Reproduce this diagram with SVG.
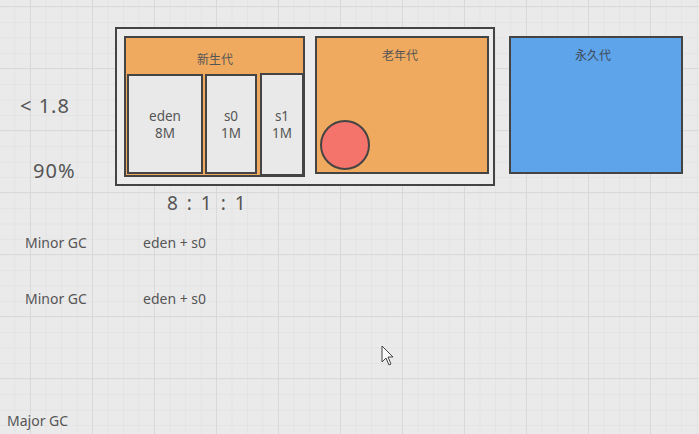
<svg xmlns="http://www.w3.org/2000/svg" width="699" height="434" viewBox="0 0 699 434">
<defs>
<pattern id="minor" x="14.5" y="6.5" width="15.5" height="15.5" patternUnits="userSpaceOnUse">
<path d="M0 0H15.5M0 0V15.5" fill="none" stroke="#dedede" stroke-width="1"/>
</pattern>
<pattern id="major" x="30" y="6" width="62" height="62" patternUnits="userSpaceOnUse">
<path d="M0 0H62M0 0V62" fill="none" stroke="#d6d6d6" stroke-width="1.5"/>
</pattern>
</defs>
<style>
.box{stroke:#444;stroke-width:2}
.t{font-family:"Noto Sans","Noto Sans CJK SC",sans-serif;fill:#555}
.c{text-anchor:middle}
.big{font-size:20px;letter-spacing:1px}
.sm{font-size:14px}
</style>
<rect width="699" height="434" fill="#eaeaea"/>
<rect width="699" height="434" fill="url(#minor)"/>
<rect width="699" height="434" fill="url(#major)"/>

<g id="heap">
<rect x="116" y="28" width="378" height="157" fill="#ececec" class="box"/>
</g>
<g id="young">
<rect x="125" y="37" width="179" height="139" fill="#f0aa5f" class="box"/>
<text x="215" y="64" class="t c" font-size="12">新生代</text>
</g>
<g id="eden">
<rect x="128" y="75" width="74" height="98" fill="#e9e9e9" class="box"/>
<text x="165" y="121" class="t c" font-size="13.5">eden</text>
<text x="165" y="138" class="t c" font-size="13.5">8M</text>
</g>
<g id="s0">
<rect x="206" y="75" width="50" height="98" fill="#e9e9e9" class="box"/>
<text x="231" y="121" class="t c" font-size="13.5">s0</text>
<text x="231" y="138" class="t c" font-size="13.5">1M</text>
</g>
<g id="s1">
<rect x="261" y="74" width="42" height="101" fill="#e9e9e9" class="box"/>
<text x="282" y="121" class="t c" font-size="13.5">s1</text>
<text x="282" y="138" class="t c" font-size="13.5">1M</text>
</g>
<g id="old">
<rect x="316" y="37" width="172" height="136" fill="#f0aa5f" class="box"/>
<text x="400" y="60" class="t c" font-size="12">老年代</text>
<circle cx="345" cy="145" r="24" fill="#f4736a" class="box"/>
</g>
<g id="perm">
<rect x="510" y="37" width="172" height="136" fill="#5ea4ea" class="box"/>
<text x="593" y="60" class="t c" font-size="12" style="fill:#3f4a57">永久代</text>
</g>
<g id="connectors"></g>

<text x="20" y="113" class="t big">&lt; 1.8</text>
<text x="33" y="178" class="t big">90%</text>
<text x="167" y="210" class="t" font-size="19" word-spacing="4">8 : 1 : 1</text>
<text x="25" y="248" class="t sm">Minor GC</text>
<text x="143" y="248" class="t sm">eden + s0</text>
<text x="25" y="304" class="t sm">Minor GC</text>
<text x="143" y="304" class="t sm">eden + s0</text>
<text x="7" y="426" class="t sm">Major GC</text>

<path d="M382 346 L382 362 L386 358 L389 365 L391 364 L388 357 L393 357 Z" fill="#fafafa" stroke="#444" stroke-width="1"/>
</svg>
